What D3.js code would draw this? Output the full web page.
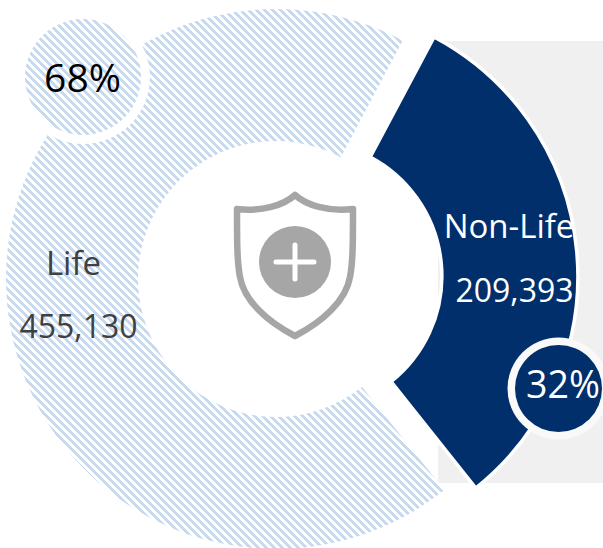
<!DOCTYPE html>
<html><head><meta charset="utf-8">
<script src="https://cdnjs.cloudflare.com/ajax/libs/d3/7.8.5/d3.min.js"></script>
<style>html,body{margin:0;padding:0;background:#fff}svg{display:block}</style></head>
<body><div id="c"></div>
<script>
const categories = ["Non-Life","Life"];
const values = [209393,455130];
const shares = ["32%","68%"];
const W=603,H=548;
const svg=d3.select("#c").append("svg").attr("width",W).attr("height",H).attr("viewBox",[0,0,W,H]);
const defs=svg.append("defs");
const P=8;
const pat=defs.append("pattern").attr("id","hatch").attr("patternUnits","userSpaceOnUse").attr("width",P).attr("height",P);
pat.append("rect").attr("width",P).attr("height",P).attr("fill","#fff");
const tile=pat.append("g").attr("fill","#c5d9f1").attr("shape-rendering","crispEdges");
for(let i=0;i<P;i++){for(let k=0;k<4;k++){tile.append("rect").attr("x",(i+k)%P).attr("y",i).attr("width",1).attr("height",1);}}
svg.append("rect").attr("x",438).attr("y",41).attr("width",170).attr("height",442).attr("rx",3).attr("fill","#f0f0f0");
const cx=276,cy=279,explode=31;
const pie=d3.pie().sort(null).startAngle(28*Math.PI/180).endAngle(388*Math.PI/180);
const arcs=pie(values);
const arc=d3.arc().innerRadius(138).outerRadius(270);
const navyArc=d3.arc().innerRadius(135).outerRadius(271);
svg.append("path").datum(arcs[1]).attr("transform",`translate(${cx},${cy})`).attr("d",arc).attr("fill","url(#hatch)");
const a=arcs[0], mid=(a.startAngle+a.endAngle)/2;
svg.append("path").datum(a).attr("transform",`translate(${cx+explode*Math.sin(mid)},${cy-explode*Math.cos(mid)})`)
  .attr("d",navyArc).attr("fill","#002f6c").attr("stroke","#fff").attr("stroke-width",3.5);
svg.append("circle").attr("cx",83).attr("cy",77).attr("r",67).attr("fill","#fff");
svg.append("circle").attr("cx",83).attr("cy",77).attr("r",58).attr("fill","url(#hatch)");
svg.append("circle").attr("cx",558.5).attr("cy",388.5).attr("r",51).attr("fill","#f9f9f9");
svg.append("circle").attr("cx",558.5).attr("cy",388.5).attr("r",43.5).attr("fill","#002f6c");
const g=svg.append("g");
g.append("path").attr("d","M295 195C284 205 262 212 237 209C237 240 237 262 240 277C244 301 268 322 295 336C322 322 346 301 350 277C353 262 353 240 353 209C328 212 306 205 295 195Z")
 .attr("fill","none").attr("stroke","#a6a6a6").attr("stroke-width",6.5).attr("stroke-linejoin","round");
g.append("circle").attr("cx",295).attr("cy",262).attr("r",36).attr("fill","#a6a6a6");
g.append("path").attr("d","M295 245V279M276 262H314").attr("stroke","#fff").attr("stroke-width",5).attr("stroke-linecap","round").attr("fill","none");
const font="'Open Sans', sans-serif";
const fmt=d3.format(",");
function t(x,y,s,size,fill,fam){svg.append("text").attr("x",x).attr("y",y).attr("text-anchor","middle").attr("font-size",size).attr("font-family",fam||font).attr("fill",fill).text(s);}
t(73.5,275,categories[1],33,"#404040");
t(78.5,338,fmt(values[1]),32,"#404040");
t(509,238,categories[0],33,"#fff");
t(514.5,302,fmt(values[0]),32,"#fff");
t(82.5,92,shares[1],39,"#000");
t(563,398,shares[0],37.5,"#fff");
</script></body></html>
